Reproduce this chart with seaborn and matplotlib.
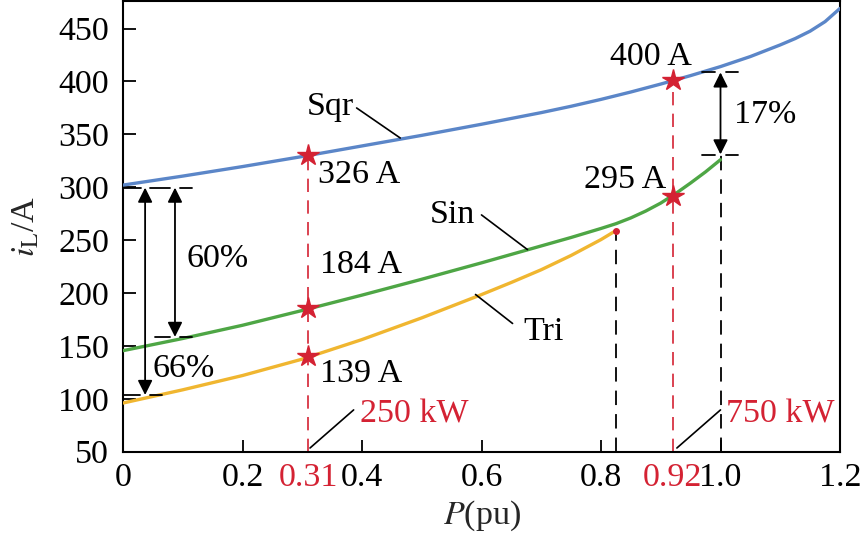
import matplotlib
matplotlib.use("Agg")
import matplotlib.pyplot as plt
import seaborn as sns
import pandas as pd

# ---------------- data ----------------
p_sqr = [0, 0.1, 0.2, 0.3, 0.4, 0.5, 0.6, 0.7, 0.75, 0.8, 0.85, 0.9, 0.95, 1.0,
         1.05, 1.1, 1.125, 1.15, 1.175, 1.2]
i_sqr = [302, 310.5, 319.5, 329, 339, 349, 359.5, 370.5, 376.5, 383, 390, 397.5, 405.5, 414,
         423.5, 434.5, 440.5, 447.5, 456.5, 469]

p_sin = [0, 0.1, 0.2, 0.3, 0.4, 0.5, 0.6, 0.7, 0.75, 0.8, 0.825, 0.85, 0.875, 0.9,
         0.925, 0.95, 0.975, 1.0]
i_sin = [145.5, 157, 169.5, 183.5, 198, 213, 228.5, 244.5, 252.5, 261, 265.5, 271, 277.5, 285,
         294, 304, 314.5, 326]

p_tri = [0, 0.1, 0.2, 0.3, 0.4, 0.5, 0.6, 0.65, 0.7, 0.75, 0.8, 0.825]
i_tri = [96, 108.5, 122, 137.5, 156, 176.5, 198.5, 210, 222, 235.5, 250.5, 259]

p_marks = [0.31, 0.92]
star_sqr = [330, 401]
star_sin = [186, 292]
star_tri = [140]
mark_labels = ["0.31", "0.92"]

xticks = [0, 0.2, 0.4, 0.6, 0.8, 1.0, 1.2]
xtick_labels = ["0", "0.2", "0.4", "0.6", "0.8", "1.0", "1.2"]
yticks = [50, 100, 150, 200, 250, 300, 350, 400, 450]

BLUE = "#5B86C8"
GREEN = "#4EA645"
YELLOW = "#F0B630"
RED = "#D42233"

# ---------------- style ----------------
sns.set_theme(style="white")
plt.rcParams["font.family"] = ["Liberation Serif", "DejaVu Serif"]
plt.rcParams["mathtext.fontset"] = "stix"
FS = 24.5

fig = plt.figure(figsize=(8.6, 5.45), dpi=100)
ax = fig.add_axes([123 / 860, (545 - 451.7) / 545, (840 - 123) / 860, 450.7 / 545])

df = pd.concat([
    pd.DataFrame({"P": p_sqr, "iL": i_sqr, "wave": "Sqr"}),
    pd.DataFrame({"P": p_sin, "iL": i_sin, "wave": "Sin"}),
    pd.DataFrame({"P": p_tri, "iL": i_tri, "wave": "Tri"}),
])

# vertical guide lines (drawn first so curves sit on top)
dash = (8, 5)
ax.plot([p_marks[0], p_marks[0]], [50, star_sqr[0]], color=RED, lw=1.2, dashes=dash, zorder=1)
ax.plot([p_marks[1], p_marks[1]], [50, star_sqr[1]], color=RED, lw=1.2, dashes=dash, zorder=1)
ax.plot([p_tri[-1], p_tri[-1]], [50, i_tri[-1]], color="black", lw=1.3, dashes=dash, zorder=1)
ax.plot([1.0, 1.0], [50, 330], color="black", lw=1.3, dashes=dash, zorder=1)

sns.lineplot(data=df, x="P", y="iL", hue="wave", sort=False, estimator=None,
             palette={"Sqr": BLUE, "Sin": GREEN, "Tri": YELLOW},
             lw=2.4, legend=False, ax=ax, zorder=3)

# stars
ax.plot(p_marks, star_sqr, ls="none", marker="*", ms=16, color=RED, zorder=5)
ax.plot(p_marks, star_sin, ls="none", marker="*", ms=16, color=RED, zorder=5)
ax.plot(p_marks[:1], star_tri, ls="none", marker="*", ms=16, color=RED, zorder=5)
ax.plot([p_tri[-1]], [i_tri[-1]], ls="none", marker="o", ms=4, color=RED, zorder=5)

# axes
ax.set_xlim(0, 1.2)
ax.set_ylim(50, 476)
ax.set_xticks(xticks, labels=xtick_labels)
ax.set_xticks(p_marks, labels=mark_labels, minor=True)
for t in ax.get_xticklabels(minor=True):
    t.set_color(RED)
ax.set_yticks(yticks)
ax.tick_params(axis="both", which="major", direction="in", length=9, width=1.3,
               labelsize=FS, colors="black", pad=8)
ax.tick_params(axis="x", which="minor", length=0, labelsize=FS, pad=8)
ax.tick_params(axis="x", which="major", top=False, bottom=True)
ax.tick_params(axis="y", left=True, right=False, pad=10)
for s in ax.spines.values():
    s.set_color("black")
    s.set_linewidth(1.5)
for tk in ax.xaxis.get_major_ticks():
    if tk.get_loc() in (0, 1.2):
        tk.tick1line.set_visible(False)

ax.set_xlabel("$P$(pu)", fontsize=FS, labelpad=4)
ax.set_ylabel(r"$i_{\mathrm{L}}$/A", fontsize=FS, labelpad=12)

# dimension arrows
arw = dict(arrowstyle="<|-|>", color="black", lw=1.3, mutation_scale=22,
           shrinkA=0, shrinkB=0)
ax.annotate("", xy=(0.037, 103.6), xytext=(0.037, 299.6), arrowprops=arw)
ax.annotate("", xy=(0.087, 158.5), xytext=(0.087, 299.6), arrowprops=arw)
ax.annotate("", xy=(1.0, 331), xytext=(1.0, 408.5), arrowprops=arw)

def hseg(x0, x1, y):
    ax.plot([x0, x1], [y, y], color="black", lw=1.3, zorder=4)

hseg(0, 0.030, 299.6); hseg(0.045, 0.079, 299.6); hseg(0.095, 0.115, 299.6)
hseg(0.054, 0.079, 158.5); hseg(0.095, 0.115, 158.5)
hseg(0, 0.028, 103.6); hseg(0.045, 0.065, 103.6)
hseg(0.969, 0.990, 409); hseg(1.009, 1.030, 409)
hseg(0.969, 0.990, 330.5); hseg(1.009, 1.030, 330.5)

# leader lines
def leader(x0, y0, x1, y1):
    ax.plot([x0, x1], [y0, y1], color="black", lw=1.2, zorder=4)

leader(0.391, 374.9, 0.464, 346.5)   # Sqr
leader(0.600, 273.8, 0.677, 241.0)   # Sin
leader(0.590, 198.6, 0.652, 171.2)   # Tri
leader(0.313, 53.5, 0.386, 89.5)     # 250 kW
leader(0.927, 53.5, 1.000, 89.5)     # 750 kW

# texts
def txt(x, y, s, color="black", ha="left"):
    ax.text(x, y, s, fontsize=FS, color=color, ha=ha, va="baseline", zorder=6)

txt(0.308, 368.3, "Sqr")
txt(0.513, 266.0, "Sin")
txt(0.670, 155.6, "Tri")
txt(0.327, 303.9, "326 A")
txt(0.329, 219.0, "184 A")
txt(0.329, 115.9, "139 A")
txt(0.952, 415.6, "400 A", ha="right")
txt(0.910, 299.2, "295 A", ha="right")
txt(1.023, 360.7, "17%")
txt(0.107, 224.6, "60%")
txt(0.050, 120.6, "66%")
txt(0.397, 77.2, "250 kW", color=RED)
txt(1.010, 77.2, "750 kW", color=RED)

fig.savefig("out.png", dpi=100)
